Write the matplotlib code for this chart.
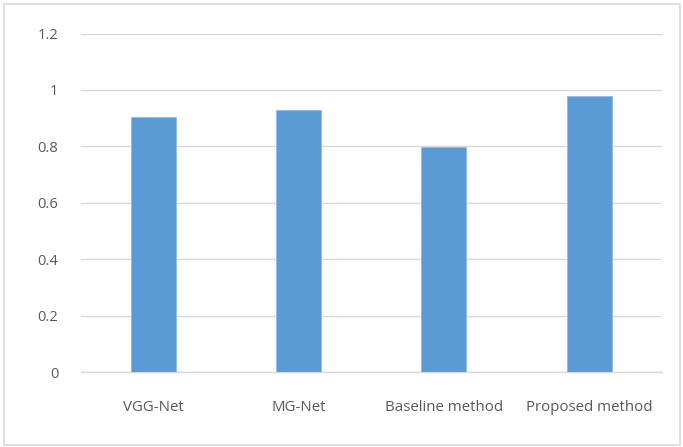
import matplotlib
matplotlib.use('Agg')
import matplotlib.pyplot as plt
from matplotlib.patches import Rectangle

# 방법별 정확도
methods = ['VGG-Net', 'MG-Net', 'Baseline method', 'Proposed method']
scores = [0.905, 0.928, 0.797, 0.979]
yticks = [0, 0.2, 0.4, 0.6, 0.8, 1.0, 1.2]
ytick_labels = ['0', '0.2', '0.4', '0.6', '0.8', '1', '1.2']

plt.rcParams['font.family'] = ['Open Sans', 'DejaVu Sans']
text_color = '#595959'
grid_color = '#d9d9d9'

fig = plt.figure(figsize=(6.83, 4.47), dpi=100)
ax = fig.add_axes([0.118, 0.167, 0.851, 0.758])

x = range(len(methods))
ax.bar(x, scores, width=0.31, color='#5b9bd5', edgecolor='#8fbbe6', linewidth=0.6, zorder=3)

ax.set_xlim(-0.5, len(methods) - 0.5)
ax.set_ylim(0, 1.2)
ax.set_yticks(yticks)
ax.set_yticklabels(ytick_labels)
ax.set_xticks(list(x))
ax.set_xticklabels(methods)

ax.grid(axis='y', color=grid_color, linewidth=1.0, zorder=0)
for s in ['top', 'right', 'left']:
    ax.spines[s].set_visible(False)
ax.spines['bottom'].set_color(grid_color)
ax.spines['bottom'].set_linewidth(1.0)

ax.tick_params(axis='y', length=0, pad=16, labelsize=10.5, labelcolor=text_color)
ax.tick_params(axis='x', length=0, pad=20, labelsize=10.8, labelcolor=text_color)

# 차트 바깥 테두리
fig.patches.append(Rectangle((0.006, 0.005), 0.99, 0.985, transform=fig.transFigure,
                             fill=False, edgecolor=grid_color, linewidth=1.2))

fig.savefig('out.png', dpi=100)
